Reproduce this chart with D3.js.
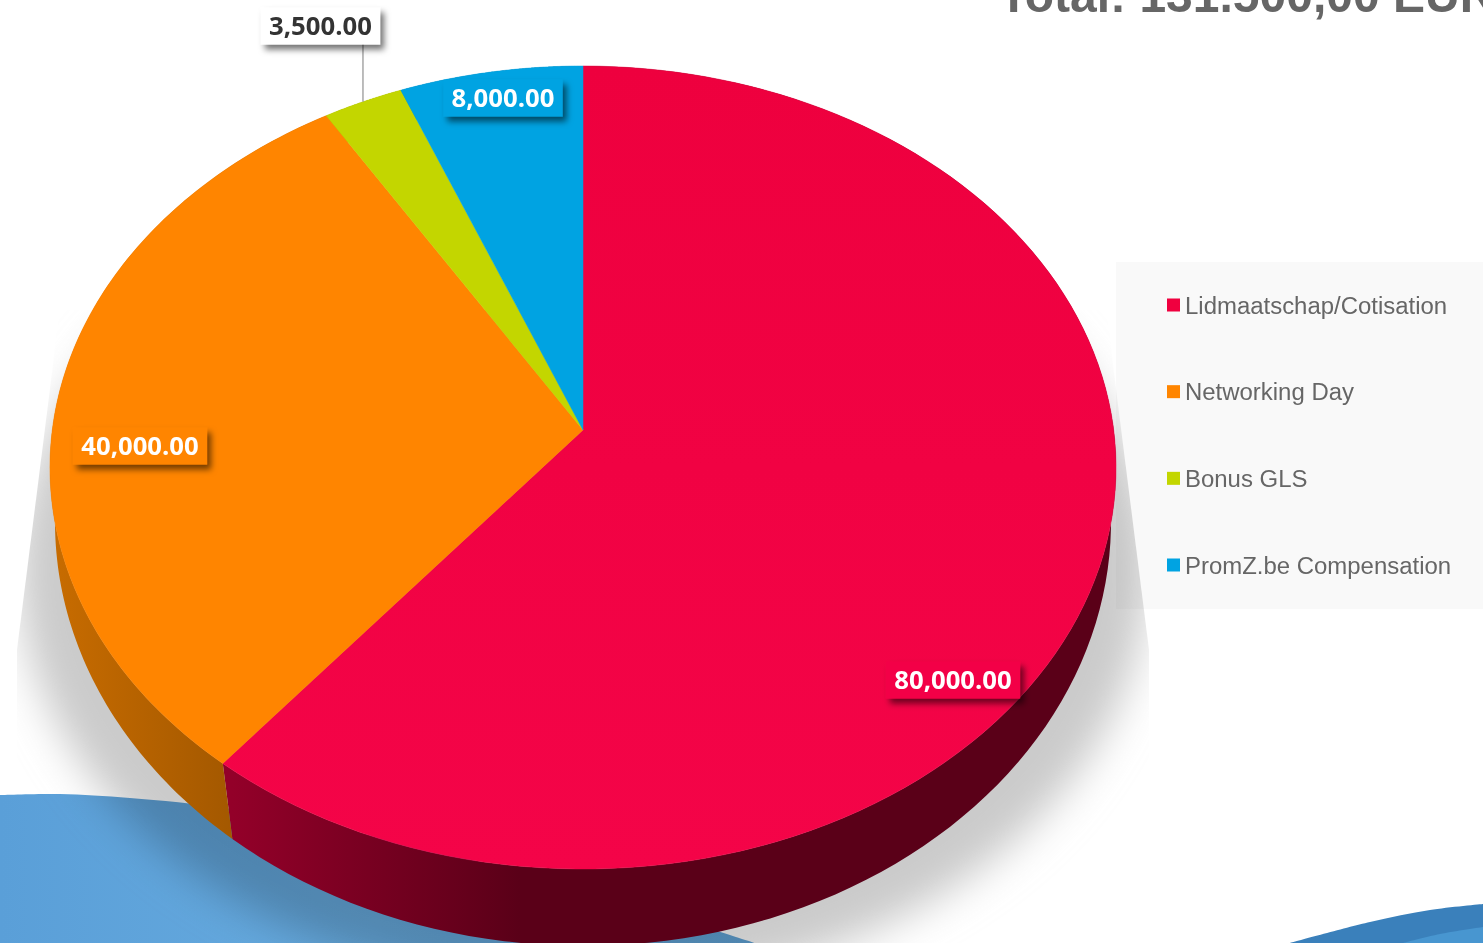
<!DOCTYPE html>
<html>
<head>
<meta charset="utf-8">
<script src="https://cdn.jsdelivr.net/npm/d3@7"></script>
<style>
  html, body { margin: 0; padding: 0; background: #fff; overflow: hidden; }
  svg { display: block; }
  text { font-family: "Liberation Sans", Arial, sans-serif; }
  .val { font-family: "Open Sans", sans-serif; font-weight: 700; font-size: 25.7px; }
</style>
</head>
<body>
<script>
// chart values
const categories = ["Lidmaatschap/Cotisation", "Networking Day", "Bonus GLS", "PromZ.be Compensation"];
const amounts = [80000, 40000, 3500, 8000];
const colors = ["#f0003f", "#ff8500", "#c3d600", "#00a3e2"];
const titleText = "Total: 131.500,00 EUR";

// centre of each value label, the small slice sits outside with a leader
const labelCenters = [[953, 680], [140, 446], [320.5, 26], [503, 98]];

const W = 1483, H = 943;
const svg = d3.select("body").append("svg").attr("width", W).attr("height", H);
const defs = svg.append("defs");

// perspective of the tilted disc, top face and lower rim
const cx = 583;
const topDisc = { cy: 430, a: 530.7, b: 398, p: 0.0934 };
const lowDisc = { cy: 492.3, a: 526.7, b: 421.9, p: 0.07 };

function project(disc, angle) {
  const u = Math.sin(angle), v = -Math.cos(angle), w = 1 - disc.p * v;
  return [cx + disc.a * u / w, disc.cy + disc.b * v / w];
}
const topRim = angle => project(topDisc, angle);
const lowRim = angle => project(lowDisc, angle);
const samples = (a0, a1) => d3.range(0, 121).map(i => a0 + (a1 - a0) * i / 120);
const line = d3.line();

const slices = d3.pie().sort(null).value(d => d)(amounts);
const color = d3.scaleOrdinal().domain(categories).range(colors);

// gradients for the side wall
function wallGrad(id, x1, x2, stops) {
  const g = defs.append("linearGradient").attr("id", id).attr("gradientUnits", "userSpaceOnUse")
    .attr("x1", x1).attr("x2", x2).attr("y1", 0).attr("y2", 0);
  stops.forEach(s => g.append("stop").attr("offset", s[0]).attr("stop-color", s[1]));
}
wallGrad("wall0", 232, 520, [[0, "#930029"], [1, "#5a0018"]]);
wallGrad("wall1", 50, 235, [[0, "#c86c00"], [1, "#a35800"]]);
wallGrad("wall2", 0, 100, [[0, "#8a9800"], [1, "#8a9800"]]);
wallGrad("wall3", 0, 100, [[0, "#00709c"], [1, "#00709c"]]);

// the red face gets a touch lighter towards the viewer
const redFace = defs.append("linearGradient").attr("id", "redFace").attr("gradientUnits", "userSpaceOnUse")
  .attr("x1", 0).attr("x2", 0).attr("y1", 66).attr("y2", 869);
redFace.append("stop").attr("offset", 0).attr("stop-color", "#ee003e");
redFace.append("stop").attr("offset", 1).attr("stop-color", "#f40448");
const redAt = d3.scaleLinear().domain([66, 869]).range(["#ee003e", "#f40448"]);

const waveLight = defs.append("linearGradient").attr("id", "waveFill").attr("gradientUnits", "userSpaceOnUse")
  .attr("x1", 0).attr("x2", 750).attr("y1", 0).attr("y2", 0);
waveLight.append("stop").attr("offset", 0).attr("stop-color", "#5a9fd8");
waveLight.append("stop").attr("offset", 0.5).attr("stop-color", "#67abdf");
waveLight.append("stop").attr("offset", 1).attr("stop-color", "#62a6da");

const blur = defs.append("filter").attr("id", "soft")
  .attr("x", "-20%").attr("y", "-20%").attr("width", "140%").attr("height", "140%");
blur.append("feGaussianBlur").attr("stdDeviation", 20);

const boxShadow = defs.append("filter").attr("id", "boxShadow")
  .attr("x", "-20%").attr("y", "-40%").attr("width", "140%").attr("height", "190%");
boxShadow.append("feDropShadow").attr("dx", 4).attr("dy", 5).attr("stdDeviation", 3)
  .attr("flood-color", "#000").attr("flood-opacity", 0.55);

const clip = defs.append("clipPath").attr("id", "shadowClip");
clip.append("path").attr("d", line([[60, 310], [17, 650], [17, 1000], [1149, 1000], [1149, 650], [1106, 310]]) + "Z");

// background waves
const curve = d3.line().curve(d3.curveCatmullRom);
svg.append("path").attr("fill", "url(#waveFill)")
  .attr("d", curve([[0, 795], [60, 794], [130, 798], [232, 809], [400, 842], [600, 895], [755, 943]]) + `L0,${H}Z`);
svg.append("path").attr("fill", "#3a80bb")
  .attr("d", curve([[1290, 943], [1370, 922], [1430, 910], [1483, 904]]) + `L${W},${H}Z`);
svg.append("path").attr("fill", "#4896d0")
  .attr("d", curve([[1403, 943], [1440, 934], [1483, 927]]) + `L${W},${H}Z`);

// title, cut off by the top of the page like in the source
svg.append("text").attr("x", 999).attr("y", 11.7)
  .attr("font-size", 48).attr("font-weight", "bold").attr("fill", "#666")
  .text(titleText);

// legend panel
svg.append("rect").attr("x", 1116).attr("y", 262).attr("width", W - 1116).attr("height", 347).attr("fill", "#f9f9f9");

// soft shadow under the pie
svg.append("g").attr("clip-path", "url(#shadowClip)").style("mix-blend-mode", "multiply")
  .append("ellipse").attr("cx", 583).attr("cy", 570).attr("rx", 565).attr("ry", 420)
  .attr("fill", "#cbcbcb").attr("filter", "url(#soft)");

// legend entries
const legendY = d3.scalePoint().domain(categories).range([305, 565]);
const legend = svg.append("g").selectAll("g").data(categories).join("g")
  .attr("transform", d => `translate(1167,${legendY(d)})`);
legend.append("rect").attr("y", -6.5).attr("width", 13).attr("height", 13).attr("fill", d => color(d));
legend.append("text").attr("x", 18).attr("y", 8.7).attr("font-size", 23.95).attr("fill", "#666").text(d => d);

// side wall
svg.append("g").selectAll("path").data(slices).join("path")
  .attr("fill", (d, i) => `url(#wall${i})`)
  .attr("d", d => {
    const as = samples(d.startAngle, d.endAngle);
    return line(as.map(topRim).concat(as.slice().reverse().map(lowRim))) + "Z";
  });

// top face
svg.append("g").selectAll("path").data(slices).join("path")
  .attr("fill", (d, i) => i === 0 ? "url(#redFace)" : colors[i])
  .attr("stroke", (d, i) => i === 0 ? "url(#redFace)" : colors[i]).attr("stroke-width", 0.5)
  .attr("d", d => line([[cx, topDisc.cy]].concat(samples(d.startAngle, d.endAngle).map(topRim))) + "Z");

// leader of the label outside the pie
const smallMid = (slices[2].startAngle + slices[2].endAngle) / 2;
svg.append("line")
  .attr("x1", topRim(smallMid)[0]).attr("x2", topRim(smallMid)[0])
  .attr("y1", labelCenters[2][1] + 18).attr("y2", topRim(smallMid)[1])
  .attr("stroke", "#999").attr("stroke-width", 1.3);

// value labels
const fmt = d3.format(",.2f");
const labels = svg.append("g").selectAll("g").data(slices).join("g")
  .attr("transform", (d, i) => `translate(${labelCenters[i][0]},${labelCenters[i][1]})`);
labels.append("rect")
  .attr("x", d => -fmt(d.value).length * 7.45)
  .attr("width", d => fmt(d.value).length * 14.9)
  .attr("y", -18.5).attr("height", 37)
  .attr("fill", (d, i) => i === 2 ? "#fff" : i === 0 ? redAt(labelCenters[0][1]) : colors[i])
  .attr("filter", "url(#boxShadow)");
labels.append("text").attr("class", "val").attr("text-anchor", "middle").attr("y", 8.8)
  .attr("fill", (d, i) => i === 2 ? "#333" : "#fff")
  .text(d => fmt(d.value));
</script>
</body>
</html>
